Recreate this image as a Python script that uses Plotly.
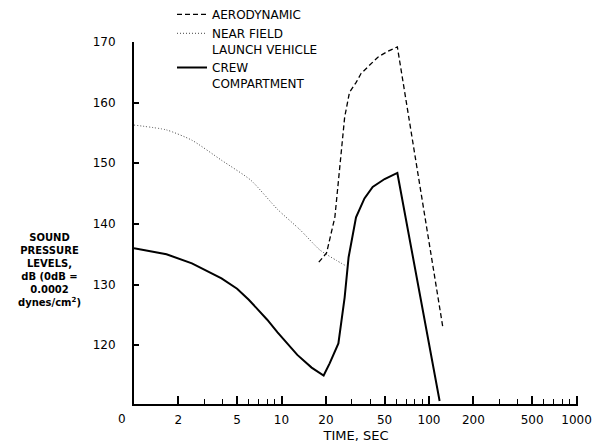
import plotly.graph_objects as go

# ---- data ----
near_t = [1, 1.66, 2.47, 3.92, 6.2, 9.4, 13.4, 18.2, 23.5, 26.8]
near_db = [156.3, 155.5, 153.8, 150.5, 147.2, 142.4, 139.0, 135.7, 134.0, 133.2]

aero_t = [17.9, 20.2, 23.0, 25.4, 26.8, 28.9, 32, 34.6, 41.5, 45, 52, 61, 124]
aero_db = [133.7, 135.2, 141.1, 152.0, 157.6, 161.7, 163.3, 164.8, 166.7, 167.5, 168.4, 169.2, 123.0]

crew_t = [1, 1.66, 2.47, 3.92, 5.0, 6.0, 8.0, 9.4, 12.8, 16, 19.3, 21.2, 24.3, 26.8, 28.5,
          32, 36.5, 41.5, 50, 61, 118]
crew_db = [136.0, 135.0, 133.5, 131.0, 129.3, 127.5, 124.2, 122.1, 118.4, 116.3, 115.0, 117.0,
           120.3, 127.9, 134.5, 141.1, 144.2, 146.1, 147.4, 148.4, 110.8]

x_tickvals = [2, 5, 10, 20, 50, 100, 200, 500, 1000]
x_ticktext = ["2", "5", "10", "20", "50", "100", "200", "500", "1000"]
x_minor = [3, 4, 6, 7, 8, 9, 30, 40, 60, 70, 80, 90, 300, 400, 600, 700, 800, 900]
y_tickvals = [120, 130, 140, 150, 160, 170]

FONT = "DejaVu Sans"

fig = go.Figure()
fig.add_trace(go.Scatter(x=aero_t, y=aero_db, mode="lines", name="AERODYNAMIC",
                         line=dict(color="black", width=1.3, dash="5px,3px")))
fig.add_trace(go.Scatter(x=near_t, y=near_db, mode="lines", name="NEAR FIELD<br>LAUNCH VEHICLE",
                         line=dict(color="#444", width=1, dash="1px,2px", shape="spline", smoothing=0.6)))
fig.add_trace(go.Scatter(x=crew_t, y=crew_db, mode="lines", name="CREW<br>COMPARTMENT",
                         line=dict(color="black", width=2)))

fig.update_layout(
    width=593, height=448,
    margin=dict(l=134, r=15, t=42, b=44, autoexpand=False),
    paper_bgcolor="white", plot_bgcolor="white",
    font=dict(family=FONT, color="black", size=11),
    showlegend=True,
    legend=dict(x=(172 - 134) / (593 - 134 - 15), xref="paper", y=1.0, yref="container",
                xanchor="left", yanchor="top",
                font=dict(size=12, family=FONT), itemwidth=30, valign="top",
                tracegroupgap=0, bgcolor="rgba(0,0,0,0)"),
)

fig.update_xaxes(type="log", range=[0, 3.01], showgrid=False, zeroline=False,
                 showline=True, linecolor="black", linewidth=2,
                 ticks="inside", ticklen=8, tickwidth=1.5, tickcolor="black",
                 tickvals=x_tickvals, ticktext=x_ticktext,
                 tickfont=dict(size=12, family=FONT), ticklabelstandoff=4,
                 ticklabeloverflow="allow",
                 minor=dict(tickvals=x_minor, ticks="inside", ticklen=5, tickwidth=1.2, tickcolor="black"),
                 title=dict(text="TIME, SEC", font=dict(size=13, family=FONT), standoff=4))
fig.update_yaxes(range=[110.3, 170], showgrid=False, zeroline=False,
                 showline=True, linecolor="black", linewidth=2,
                 ticks="inside", ticklen=5, tickwidth=1.5, tickcolor="black",
                 tickvals=y_tickvals, tickfont=dict(size=12, family=FONT),
                 ticklabelstandoff=14)

fig.add_annotation(x=0, y=0, xref="x", yref="paper", text="0", showarrow=False,
                   xshift=-12, yshift=-24, font=dict(size=12, family=FONT))
fig.add_annotation(x=-0.19, y=0.37, xref="paper", yref="paper",
                   text="<b>SOUND<br>PRESSURE<br>LEVELS,<br>dB (0dB =<br>0.0002<br>dynes/cm<sup>2</sup>)</b>",
                   showarrow=False, align="center", xanchor="center", yanchor="middle",
                   font=dict(size=10, family=FONT))

fig.write_html("out.html")
